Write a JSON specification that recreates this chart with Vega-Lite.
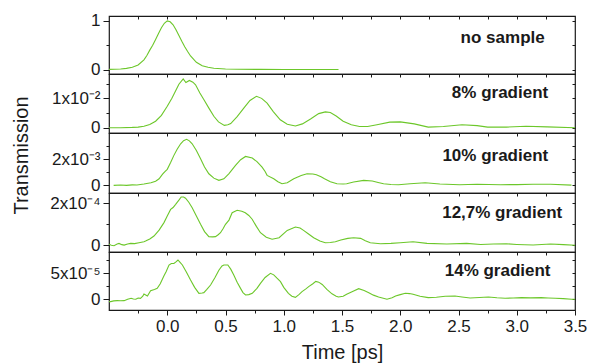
{
  "$schema": "https://vega.github.io/schema/vega-lite/v6.json",
  "padding": {"left": 10, "top": 11, "right": 0, "bottom": 0},
  "spacing": 0,
  "bounds": "flush",
  "config": {
    "font": "Liberation Sans",
    "view": {"stroke": "#1a1a1a", "strokeWidth": 1.2},
    "concat": {"spacing": 0},
    "axis": {"domain": false, "grid": false, "labelFont": "Liberation Sans", "labelFontSize": 17, "labelColor": "#1a1a1a", "tickColor": "#1a1a1a", "tickWidth": 1, "titleFont": "Liberation Sans", "titleFontWeight": "normal", "titleColor": "#1a1a1a"}
  },
  "datasets": {
    "p1": [
      {"t": -0.5, "v": 0.004}, {"t": -0.45, "v": 0.008}, {"t": -0.4, "v": 0.014}, {"t": -0.35, "v": 0.025}, {"t": -0.3, "v": 0.05},
      {"t": -0.25, "v": 0.095}, {"t": -0.2, "v": 0.2}, {"t": -0.175, "v": 0.29}, {"t": -0.15, "v": 0.4}, {"t": -0.125, "v": 0.5},
      {"t": -0.1, "v": 0.62}, {"t": -0.075, "v": 0.74}, {"t": -0.05, "v": 0.86}, {"t": -0.025, "v": 0.95}, {"t": 0, "v": 1.0},
      {"t": 0.025, "v": 0.98}, {"t": 0.05, "v": 0.92}, {"t": 0.075, "v": 0.82}, {"t": 0.1, "v": 0.7}, {"t": 0.125, "v": 0.58},
      {"t": 0.15, "v": 0.47}, {"t": 0.175, "v": 0.37}, {"t": 0.2, "v": 0.28}, {"t": 0.25, "v": 0.15}, {"t": 0.3, "v": 0.08},
      {"t": 0.35, "v": 0.047}, {"t": 0.4, "v": 0.029}, {"t": 0.5, "v": 0.013}, {"t": 0.6, "v": 0.007}, {"t": 0.8, "v": 0.004},
      {"t": 1.0, "v": 0.002}, {"t": 1.2, "v": 0.001}, {"t": 1.47, "v": 0.001}
    ],
    "p2": [
      {"t": -0.5, "v": 0}, {"t": -0.4, "v": 0}, {"t": -0.3, "v": 1e-4}, {"t": -0.25, "v": 2e-4}, {"t": -0.2, "v": 5e-4},
      {"t": -0.15, "v": 1.1e-3}, {"t": -0.1, "v": 2.2e-3}, {"t": -0.05, "v": 4.2e-3}, {"t": 0, "v": 7.3e-3}, {"t": 0.04, "v": 1.0e-2},
      {"t": 0.07, "v": 1.24e-2}, {"t": 0.1, "v": 1.48e-2}, {"t": 0.137, "v": 1.66e-2}, {"t": 0.16, "v": 1.54e-2}, {"t": 0.19, "v": 1.61e-2},
      {"t": 0.22, "v": 1.55e-2}, {"t": 0.243, "v": 1.46e-2}, {"t": 0.28, "v": 1.18e-2}, {"t": 0.315, "v": 9.5e-3}, {"t": 0.36, "v": 6.5e-3},
      {"t": 0.4, "v": 3.9e-3}, {"t": 0.44, "v": 2.0e-3}, {"t": 0.49, "v": 8e-4}, {"t": 0.52, "v": 1.0e-3}, {"t": 0.545, "v": 1.4e-3},
      {"t": 0.6, "v": 3.8e-3}, {"t": 0.657, "v": 6.7e-3}, {"t": 0.71, "v": 9.3e-3}, {"t": 0.766, "v": 1.07e-2}, {"t": 0.81, "v": 1.0e-2},
      {"t": 0.857, "v": 8.4e-3}, {"t": 0.91, "v": 5.5e-3}, {"t": 0.97, "v": 2.7e-3}, {"t": 1.03, "v": 1.2e-3}, {"t": 1.1, "v": 6e-4},
      {"t": 1.16, "v": 1.3e-3}, {"t": 1.23, "v": 3.0e-3}, {"t": 1.3, "v": 4.8e-3}, {"t": 1.357, "v": 5.4e-3}, {"t": 1.4, "v": 5.2e-3},
      {"t": 1.45, "v": 4.0e-3}, {"t": 1.51, "v": 2.2e-3}, {"t": 1.58, "v": 1.0e-3}, {"t": 1.65, "v": 4e-4}, {"t": 1.72, "v": 4e-4},
      {"t": 1.8, "v": 1.0e-3}, {"t": 1.91, "v": 1.9e-3}, {"t": 2.0, "v": 2.0e-3}, {"t": 2.12, "v": 1.3e-3}, {"t": 2.24, "v": 2e-4},
      {"t": 2.37, "v": 4e-4}, {"t": 2.53, "v": 1.0e-3}, {"t": 2.66, "v": 7e-4}, {"t": 2.75, "v": 2e-4}, {"t": 2.91, "v": 2e-4},
      {"t": 3.08, "v": 5e-4}, {"t": 3.26, "v": 3e-4}, {"t": 3.5, "v": 0}
    ],
    "p3": [
      {"t": -0.46, "v": 0}, {"t": -0.4, "v": 3e-5}, {"t": -0.35, "v": 0}, {"t": -0.3, "v": 4e-5}, {"t": -0.26, "v": 3e-5},
      {"t": -0.2, "v": 1.0e-4}, {"t": -0.14, "v": 2.0e-4}, {"t": -0.1, "v": 3.2e-4}, {"t": -0.07, "v": 5.0e-4}, {"t": -0.04, "v": 8.5e-4},
      {"t": -0.02, "v": 1.05e-3}, {"t": 0, "v": 1.22e-3}, {"t": 0.03, "v": 1.75e-3}, {"t": 0.057, "v": 2.28e-3}, {"t": 0.085, "v": 2.75e-3},
      {"t": 0.115, "v": 3.16e-3}, {"t": 0.14, "v": 3.4e-3}, {"t": 0.166, "v": 3.5e-3}, {"t": 0.19, "v": 3.38e-3}, {"t": 0.214, "v": 3.16e-3},
      {"t": 0.25, "v": 2.65e-3}, {"t": 0.286, "v": 2.03e-3}, {"t": 0.32, "v": 1.4e-3}, {"t": 0.357, "v": 8.8e-4}, {"t": 0.4, "v": 5.5e-4},
      {"t": 0.443, "v": 3.8e-4}, {"t": 0.486, "v": 5.0e-4}, {"t": 0.53, "v": 9.0e-4}, {"t": 0.586, "v": 1.52e-3}, {"t": 0.63, "v": 1.95e-3},
      {"t": 0.672, "v": 2.2e-3}, {"t": 0.73, "v": 2.08e-3}, {"t": 0.77, "v": 1.8e-3}, {"t": 0.814, "v": 1.39e-3}, {"t": 0.84, "v": 1.05e-3},
      {"t": 0.857, "v": 7.6e-4}, {"t": 0.914, "v": 5.0e-4}, {"t": 0.95, "v": 2.8e-4}, {"t": 0.985, "v": 1.2e-4}, {"t": 1.03, "v": 2.0e-4},
      {"t": 1.086, "v": 5.0e-4}, {"t": 1.15, "v": 7.5e-4}, {"t": 1.2, "v": 8.8e-4}, {"t": 1.25, "v": 8.6e-4}, {"t": 1.28, "v": 8.1e-4},
      {"t": 1.32, "v": 6.5e-4}, {"t": 1.35, "v": 5.0e-4}, {"t": 1.4, "v": 2.8e-4}, {"t": 1.457, "v": 1.2e-4}, {"t": 1.51, "v": 1.0e-4},
      {"t": 1.54, "v": 1.2e-4}, {"t": 1.6, "v": 2.5e-4}, {"t": 1.686, "v": 3.8e-4}, {"t": 1.76, "v": 3.3e-4}, {"t": 1.81, "v": 2.2e-4},
      {"t": 1.857, "v": 1.2e-4}, {"t": 1.92, "v": 7e-5}, {"t": 1.985, "v": 5e-5}, {"t": 2.085, "v": 1.2e-4}, {"t": 2.214, "v": 2.0e-4},
      {"t": 2.34, "v": 1.0e-4}, {"t": 2.51, "v": 5e-5}, {"t": 2.66, "v": 8e-5}, {"t": 2.86, "v": 5e-5}, {"t": 3.0, "v": 6e-5},
      {"t": 3.14, "v": 8e-5}, {"t": 3.29, "v": 8e-5}, {"t": 3.47, "v": 2e-5}
    ],
    "p4": [
      {"t": -0.5, "v": 5e-6}, {"t": -0.48, "v": 0}, {"t": -0.457, "v": -2e-6}, {"t": -0.43, "v": 6e-6}, {"t": -0.414, "v": 9e-6},
      {"t": -0.39, "v": 3e-6}, {"t": -0.37, "v": 1e-6}, {"t": -0.34, "v": 6e-6}, {"t": -0.314, "v": 9e-6}, {"t": -0.28, "v": 8e-6},
      {"t": -0.243, "v": 1.2e-5}, {"t": -0.2, "v": 1.7e-5}, {"t": -0.186, "v": 2.0e-5}, {"t": -0.15, "v": 3.0e-5}, {"t": -0.114, "v": 4.4e-5},
      {"t": -0.07, "v": 7.2e-5}, {"t": -0.028, "v": 1.08e-4}, {"t": 0, "v": 1.4e-4}, {"t": 0.029, "v": 1.71e-4}, {"t": 0.05, "v": 1.8e-4},
      {"t": 0.072, "v": 1.95e-4}, {"t": 0.1, "v": 2.15e-4}, {"t": 0.12, "v": 2.3e-4}, {"t": 0.14, "v": 2.3e-4}, {"t": 0.157, "v": 2.24e-4},
      {"t": 0.185, "v": 2.05e-4}, {"t": 0.214, "v": 1.79e-4}, {"t": 0.25, "v": 1.4e-4}, {"t": 0.286, "v": 1.0e-4}, {"t": 0.32, "v": 6.5e-5},
      {"t": 0.357, "v": 4.1e-5}, {"t": 0.39, "v": 4.0e-5}, {"t": 0.414, "v": 4.1e-5}, {"t": 0.437, "v": 5.0e-5}, {"t": 0.457, "v": 6.0e-5},
      {"t": 0.48, "v": 8.0e-5}, {"t": 0.5, "v": 1.0e-4}, {"t": 0.53, "v": 1.2e-4}, {"t": 0.557, "v": 1.55e-4}, {"t": 0.6, "v": 1.67e-4},
      {"t": 0.64, "v": 1.62e-4}, {"t": 0.67, "v": 1.55e-4}, {"t": 0.7, "v": 1.42e-4}, {"t": 0.729, "v": 1.24e-4}, {"t": 0.765, "v": 9.0e-5},
      {"t": 0.8, "v": 6.0e-5}, {"t": 0.85, "v": 3.8e-5}, {"t": 0.9, "v": 2.9e-5}, {"t": 0.96, "v": 3.6e-5}, {"t": 1.03, "v": 7.1e-5},
      {"t": 1.07, "v": 8.0e-5}, {"t": 1.1, "v": 8.7e-5}, {"t": 1.14, "v": 8.2e-5}, {"t": 1.17, "v": 7.1e-5}, {"t": 1.21, "v": 5.5e-5},
      {"t": 1.257, "v": 3.6e-5}, {"t": 1.31, "v": 2.0e-5}, {"t": 1.357, "v": 1.2e-5}, {"t": 1.4, "v": 1.3e-5}, {"t": 1.443, "v": 1.7e-5},
      {"t": 1.49, "v": 2.5e-5}, {"t": 1.55, "v": 3.3e-5}, {"t": 1.6, "v": 3.6e-5}, {"t": 1.66, "v": 3.3e-5}, {"t": 1.7, "v": 2.2e-5},
      {"t": 1.743, "v": 1.2e-5}, {"t": 1.83, "v": 7e-6}, {"t": 1.92, "v": 9e-6}, {"t": 2.0, "v": 1.2e-5}, {"t": 2.11, "v": 1.7e-5},
      {"t": 2.23, "v": 9e-6}, {"t": 2.4, "v": 6e-6}, {"t": 2.57, "v": 9e-6}, {"t": 2.69, "v": 4e-6}, {"t": 2.8, "v": 6e-6},
      {"t": 2.91, "v": 7e-6}, {"t": 3.0, "v": 4e-6}, {"t": 3.14, "v": 1e-6}, {"t": 3.29, "v": 6e-6}, {"t": 3.4, "v": 3e-6},
      {"t": 3.5, "v": 0}
    ],
    "p5": [
      {"t": -0.5, "v": -4.5e-6}, {"t": -0.485, "v": -4.5e-6}, {"t": -0.46, "v": -3.0e-6}, {"t": -0.43, "v": -2.6e-6}, {"t": -0.4, "v": -2.8e-6},
      {"t": -0.37, "v": -2.6e-6}, {"t": -0.34, "v": 0}, {"t": -0.31, "v": 1.9e-6}, {"t": -0.29, "v": 5e-7}, {"t": -0.27, "v": 0},
      {"t": -0.25, "v": 2.5e-6}, {"t": -0.23, "v": 1.9e-6}, {"t": -0.21, "v": 6e-6}, {"t": -0.2, "v": 1.02e-5}, {"t": -0.17, "v": 6.4e-6},
      {"t": -0.143, "v": 1.66e-5}, {"t": -0.11, "v": 1.9e-5}, {"t": -0.086, "v": 2.1e-5}, {"t": -0.06, "v": 3.0e-5}, {"t": -0.029, "v": 4.48e-5},
      {"t": -0.01, "v": 5.3e-5}, {"t": 0.015, "v": 6.6e-5}, {"t": 0.035, "v": 6.9e-5}, {"t": 0.057, "v": 6.9e-5}, {"t": 0.075, "v": 7.2e-5},
      {"t": 0.092, "v": 7.56e-5}, {"t": 0.11, "v": 7.1e-5}, {"t": 0.13, "v": 6.6e-5}, {"t": 0.165, "v": 5.2e-5}, {"t": 0.2, "v": 3.7e-5},
      {"t": 0.235, "v": 2.3e-5}, {"t": 0.272, "v": 1.15e-5}, {"t": 0.3, "v": 1.2e-5}, {"t": 0.314, "v": 1.28e-5}, {"t": 0.34, "v": 1.9e-5},
      {"t": 0.372, "v": 2.75e-5}, {"t": 0.41, "v": 4.2e-5}, {"t": 0.443, "v": 5.6e-5}, {"t": 0.47, "v": 6.4e-5}, {"t": 0.486, "v": 6.6e-5},
      {"t": 0.52, "v": 6.6e-5}, {"t": 0.545, "v": 5.8e-5}, {"t": 0.571, "v": 4.67e-5}, {"t": 0.6, "v": 3.3e-5}, {"t": 0.629, "v": 2.1e-5},
      {"t": 0.65, "v": 1.3e-5}, {"t": 0.672, "v": 8.3e-6}, {"t": 0.7, "v": 9e-6}, {"t": 0.73, "v": 1.15e-5}, {"t": 0.77, "v": 2.1e-5},
      {"t": 0.8, "v": 3.07e-5}, {"t": 0.84, "v": 4.2e-5}, {"t": 0.886, "v": 5.0e-5}, {"t": 0.914, "v": 4.7e-5}, {"t": 0.94, "v": 4.1e-5},
      {"t": 0.972, "v": 3.4e-5}, {"t": 1.0, "v": 2.3e-5}, {"t": 1.04, "v": 1.15e-5}, {"t": 1.07, "v": 6e-6}, {"t": 1.1, "v": 3.8e-6},
      {"t": 1.13, "v": 9e-6}, {"t": 1.157, "v": 1.47e-5}, {"t": 1.19, "v": 2.0e-5}, {"t": 1.214, "v": 2.43e-5}, {"t": 1.25, "v": 3.0e-5},
      {"t": 1.275, "v": 3.45e-5}, {"t": 1.3, "v": 3.3e-5}, {"t": 1.33, "v": 2.85e-5}, {"t": 1.37, "v": 1.9e-5}, {"t": 1.414, "v": 1.05e-5},
      {"t": 1.45, "v": 6e-6}, {"t": 1.47, "v": 4.5e-6}, {"t": 1.51, "v": 6e-6}, {"t": 1.54, "v": 9.6e-6}, {"t": 1.6, "v": 1.6e-5},
      {"t": 1.643, "v": 2.05e-5}, {"t": 1.69, "v": 1.7e-5}, {"t": 1.73, "v": 1.28e-5}, {"t": 1.77, "v": 8e-6}, {"t": 1.814, "v": 4.5e-6},
      {"t": 1.886, "v": 0}, {"t": 1.93, "v": 3e-6}, {"t": 1.96, "v": 6.4e-6}, {"t": 2.0, "v": 9e-6}, {"t": 2.043, "v": 1.15e-5},
      {"t": 2.08, "v": 1.1e-5}, {"t": 2.11, "v": 9.6e-6}, {"t": 2.17, "v": 6e-6}, {"t": 2.24, "v": 3.2e-6}, {"t": 2.31, "v": 4e-6},
      {"t": 2.386, "v": 5.8e-6}, {"t": 2.47, "v": 6.4e-6}, {"t": 2.53, "v": 4.5e-6}, {"t": 2.6, "v": 2.6e-6}, {"t": 2.68, "v": 3.5e-6},
      {"t": 2.757, "v": 4.5e-6}, {"t": 2.83, "v": 3e-6}, {"t": 2.9, "v": 2e-6}, {"t": 2.97, "v": 2.5e-6}, {"t": 3.04, "v": 3.2e-6},
      {"t": 3.12, "v": 2.8e-6}, {"t": 3.21, "v": 3.2e-6}, {"t": 3.27, "v": 2.5e-6}, {"t": 3.33, "v": 2e-6}, {"t": 3.4, "v": 1.2e-6},
      {"t": 3.47, "v": 0}, {"t": 3.5, "v": 2e-7}
    ]
  },
  "vconcat": [
    {
      "width": 466, "height": 58,
      "resolve": {"axis": {"x": "independent", "y": "independent"}},
      "layer": [
        {
          "data": {"name": "p1"},
          "mark": {"type": "line", "color": "#6cc72a", "strokeWidth": 1.1, "clip": true},
          "encoding": {
            "x": {"field": "t", "type": "quantitative", "scale": {"domain": [-0.5, 3.5], "nice": false, "zero": false}, "axis": null},
            "y": {"field": "v", "type": "quantitative", "scale": {"domain": [-0.09, 1.1], "nice": false, "zero": false},
                  "axis": {"orient": "left", "title": null, "values": [0, 0.5, 1], "labelPadding": 3,
                           "labelExpr": "datum.value == 0 ? '0' : datum.value == 1 ? '1' : ''",
                           "tickSize": {"condition": {"test": "datum.value == 0.5", "value": 3}, "value": 6}}}
          }
        },
        {
          "data": {"values": [{"t": 3.24, "v": 0.65, "label": "no sample"}]},
          "mark": {"type": "text", "align": "right", "baseline": "middle", "fontSize": 17, "fontWeight": "bold", "color": "#1a1a1a"},
          "encoding": {
            "x": {"field": "t", "type": "quantitative", "axis": {"orient": "top", "labels": false, "title": null, "tickSize": -3, "values": [-0.25, 0, 0.25, 0.5, 0.75, 1, 1.25, 1.5, 1.75, 2, 2.25, 2.5, 2.75, 3, 3.25]}},
            "y": {"field": "v", "type": "quantitative", "axis": {"orient": "right", "labels": false, "title": null, "tickSize": -3, "values": [0, 0.5, 1]}},
            "text": {"field": "label"}
          }
        }
      ]
    },
    {
      "width": 466, "height": 59,
      "resolve": {"axis": {"x": "independent", "y": "independent"}},
      "layer": [
        {
          "data": {"name": "p2"},
          "mark": {"type": "line", "color": "#6cc72a", "strokeWidth": 1.1, "clip": true},
          "encoding": {
            "x": {"field": "t", "type": "quantitative", "scale": {"domain": [-0.5, 3.5], "nice": false, "zero": false}, "axis": null},
            "y": {"field": "v", "type": "quantitative", "scale": {"domain": [-0.0018, 0.0183], "nice": false, "zero": false},
                  "axis": {"orient": "left", "title": null, "values": [0, 0.005, 0.01, 0.015], "labelPadding": 3,
                           "labelExpr": "datum.value == 0 ? '0' : datum.value == 0.01 ? '1x10⁻²' : ''",
                           "tickSize": {"condition": {"test": "datum.value == 0.005 || datum.value == 0.015", "value": 3}, "value": 6}}}
          }
        },
        {
          "data": {"values": [{"t": 3.27, "v": 0.0118, "label": "8% gradient"}]},
          "mark": {"type": "text", "align": "right", "baseline": "middle", "fontSize": 17, "fontWeight": "bold", "color": "#1a1a1a"},
          "encoding": {
            "x": {"field": "t", "type": "quantitative", "axis": {"orient": "top", "labels": false, "title": null, "tickSize": -3, "values": [-0.25, 0, 0.25, 0.5, 0.75, 1, 1.25, 1.5, 1.75, 2, 2.25, 2.5, 2.75, 3, 3.25]}},
            "y": {"field": "v", "type": "quantitative", "axis": {"orient": "right", "labels": false, "title": null, "tickSize": -3, "values": [0, 0.005, 0.01, 0.015]}},
            "text": {"field": "label"}
          }
        }
      ]
    },
    {
      "width": 466, "height": 60,
      "resolve": {"axis": {"x": "independent", "y": "independent"}},
      "layer": [
        {
          "data": {"name": "p3"},
          "mark": {"type": "line", "color": "#6cc72a", "strokeWidth": 1.1, "clip": true},
          "encoding": {
            "x": {"field": "t", "type": "quantitative", "scale": {"domain": [-0.5, 3.5], "nice": false, "zero": false}, "axis": null},
            "y": {"field": "v", "type": "quantitative", "scale": {"domain": [-0.00058, 0.00398], "nice": false, "zero": false},
                  "axis": {"orient": "left", "title": "Transmission", "titleFontSize": 20, "titlePadding": 20, "titleY": 22,
                           "values": [0, 0.001, 0.002, 0.003], "labelPadding": 3,
                           "labelExpr": "datum.value == 0 ? '0' : datum.value == 0.002 ? '2x10⁻³' : ''",
                           "tickSize": {"condition": {"test": "datum.value == 0.001 || datum.value == 0.003", "value": 3}, "value": 6}}}
          }
        },
        {
          "data": {"values": [{"t": 3.27, "v": 0.00223, "label": "10% gradient"}]},
          "mark": {"type": "text", "align": "right", "baseline": "middle", "fontSize": 17, "fontWeight": "bold", "color": "#1a1a1a"},
          "encoding": {
            "x": {"field": "t", "type": "quantitative", "axis": {"orient": "top", "labels": false, "title": null, "tickSize": -3, "values": [-0.25, 0, 0.25, 0.5, 0.75, 1, 1.25, 1.5, 1.75, 2, 2.25, 2.5, 2.75, 3, 3.25]}},
            "y": {"field": "v", "type": "quantitative", "axis": {"orient": "right", "labels": false, "title": null, "tickSize": -3, "values": [0, 0.001, 0.002, 0.003]}},
            "text": {"field": "label"}
          }
        }
      ]
    },
    {
      "width": 466, "height": 59,
      "resolve": {"axis": {"x": "independent", "y": "independent"}},
      "layer": [
        {
          "data": {"name": "p4"},
          "mark": {"type": "line", "color": "#6cc72a", "strokeWidth": 1.1, "clip": true},
          "encoding": {
            "x": {"field": "t", "type": "quantitative", "scale": {"domain": [-0.5, 3.5], "nice": false, "zero": false}, "axis": null},
            "y": {"field": "v", "type": "quantitative", "scale": {"domain": [-0.000032, 0.000249], "nice": false, "zero": false},
                  "axis": {"orient": "left", "title": null, "values": [0, 0.0001, 0.0002], "labelPadding": 3,
                           "labelExpr": "datum.value == 0 ? '0' : datum.value == 0.0002 ? '2x10⁻⁴' : ''",
                           "tickSize": {"condition": {"test": "datum.value == 0.0001", "value": 3}, "value": 6}}}
          }
        },
        {
          "data": {"values": [{"t": 3.39, "v": 0.000154, "label": "12,7% gradient"}]},
          "mark": {"type": "text", "align": "right", "baseline": "middle", "fontSize": 17, "fontWeight": "bold", "color": "#1a1a1a"},
          "encoding": {
            "x": {"field": "t", "type": "quantitative", "axis": {"orient": "top", "labels": false, "title": null, "tickSize": -3, "values": [-0.25, 0, 0.25, 0.5, 0.75, 1, 1.25, 1.5, 1.75, 2, 2.25, 2.5, 2.75, 3, 3.25]}},
            "y": {"field": "v", "type": "quantitative", "axis": {"orient": "right", "labels": false, "title": null, "tickSize": -3, "values": [0, 0.0001, 0.0002]}},
            "text": {"field": "label"}
          }
        }
      ]
    },
    {
      "width": 466, "height": 58,
      "resolve": {"axis": {"x": "independent", "y": "independent"}},
      "layer": [
        {
          "data": {"name": "p5"},
          "mark": {"type": "line", "color": "#6cc72a", "strokeWidth": 1.1, "clip": true},
          "encoding": {
            "x": {"field": "t", "type": "quantitative", "scale": {"domain": [-0.5, 3.5], "nice": false, "zero": false},
                  "axis": {"orient": "bottom", "title": "Time [ps]", "titleFontSize": 20, "titlePadding": 8, "labelPadding": 3, "labelFlush": false,
                           "values": [-0.25, 0, 0.25, 0.5, 0.75, 1, 1.25, 1.5, 1.75, 2, 2.25, 2.5, 2.75, 3, 3.25, 3.5],
                           "labelExpr": "abs(datum.value*2 - round(datum.value*2)) > 0.01 ? '' : format(datum.value, '.1f')",
                           "tickSize": {"condition": {"test": "abs(datum.value*2 - round(datum.value*2)) > 0.01", "value": 3}, "value": 5}}},
            "y": {"field": "v", "type": "quantitative", "scale": {"domain": [-0.0000206, 0.000091], "nice": false, "zero": false},
                  "axis": {"orient": "left", "title": null, "values": [0, 0.000025, 0.00005, 0.000075], "labelPadding": 3,
                           "labelExpr": "datum.value == 0 ? '0' : datum.value == 0.00005 ? '5x10⁻⁵' : ''",
                           "tickSize": {"condition": {"test": "datum.value == 0.000025 || datum.value == 0.000075", "value": 3}, "value": 6}}}
          }
        },
        {
          "data": {"values": [{"t": 3.29, "v": 0.0000544, "label": "14% gradient"}]},
          "mark": {"type": "text", "align": "right", "baseline": "middle", "fontSize": 17, "fontWeight": "bold", "color": "#1a1a1a"},
          "encoding": {
            "x": {"field": "t", "type": "quantitative", "axis": {"orient": "top", "labels": false, "title": null, "tickSize": -3, "values": [-0.25, 0, 0.25, 0.5, 0.75, 1, 1.25, 1.5, 1.75, 2, 2.25, 2.5, 2.75, 3, 3.25]}},
            "y": {"field": "v", "type": "quantitative", "axis": {"orient": "right", "labels": false, "title": null, "tickSize": -3, "values": [0, 0.000025, 0.00005, 0.000075]}},
            "text": {"field": "label"}
          }
        }
      ]
    }
  ]
}
